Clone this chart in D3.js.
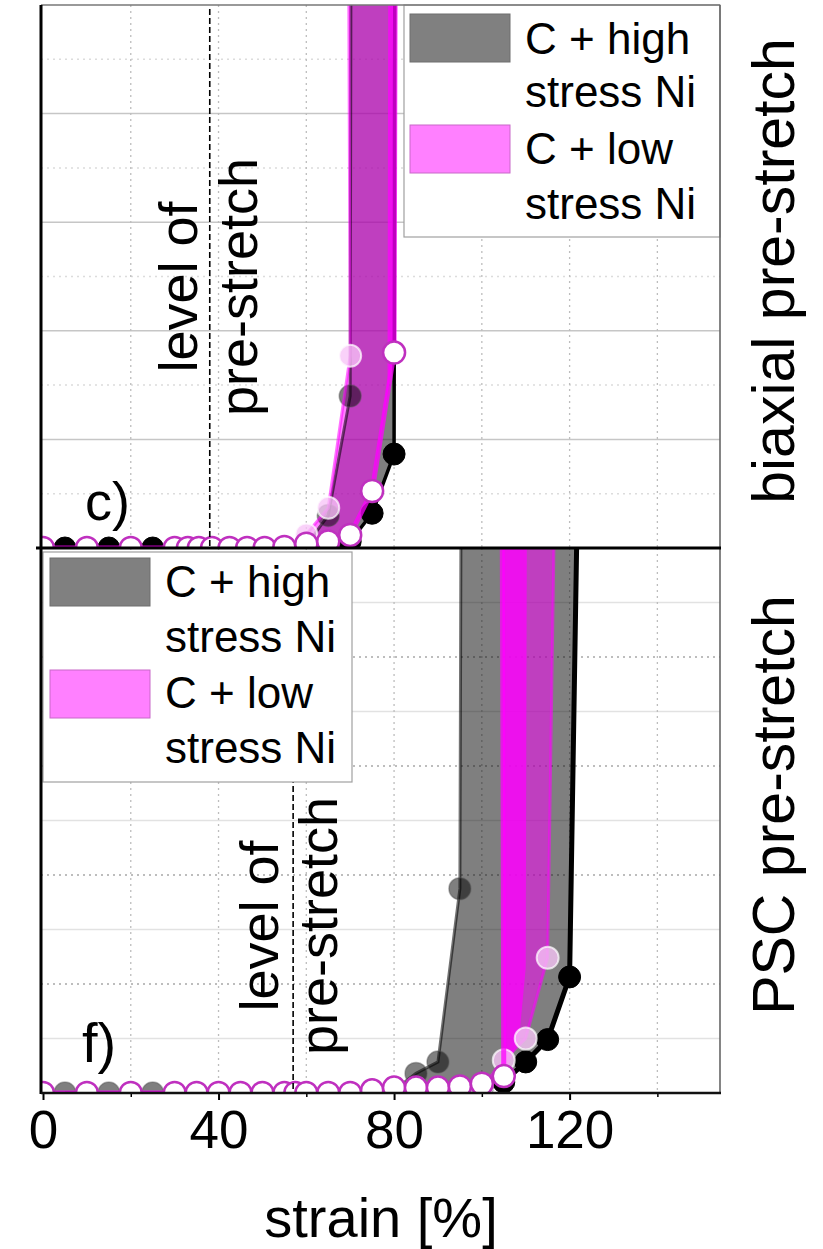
<!DOCTYPE html>
<html><head><meta charset="utf-8">
<script src="https://cdn.jsdelivr.net/npm/d3@7"></script>
<style>html,body{margin:0;padding:0;background:#fff}svg{display:block}text{font-family:"Liberation Sans",Arial,sans-serif;fill:#000}</style>
</head><body><svg id="chart" width="823" height="1249"></svg>
<script>
// ---------- data ----------
const strainDomain = [0, 154.5];
const yDomain = [0, 10];
const xMajorTicks = [0, 40, 80, 120];
const xMinorTicks = [20, 60, 100, 140];
const xGrid = [20, 40, 60, 80, 100, 120, 140];
const yGrid = [1, 2, 3, 4, 5, 6, 7, 8, 9];
const legendLabels = [["C + high", "stress Ni"], ["C + low", "stress Ni"]];
const panelLabels = ["c)", "f)"];
const sideLabels = ["biaxial pre-stretch", "PSC pre-stretch"];
const prestretchLevel = [38, 57];
const annot = ["level of", "pre-stretch"];
const axisTitle = "strain [%]";

// panel c (biaxial) : [strain, value]
const cHighA = [[55,0],[60,0.05],[65,0.6],[70,2.8],[70.2,12]];
const cHighB = [[5,0],[15,0],[25,0],[65,0.02],[70,0.12],[75,0.64],[80,1.73],[80.2,12]];
const cLowA  = [[0,0],[10,0],[20,0],[30,0],[33,0],[35.5,0],[38.5,0],[42.5,0],[46.5,0],[50.5,0],[55,0.02],[60,0.08],[65,0.12],[70,0.24],[75,1.05],[80,3.6],[80.3,12]];
const cLowB  = [[60,0.25],[65,0.74],[70,3.54],[69.6,12]];
const cLowC  = [[75,1.05],[78.5,3.0],[78.7,12]];

// panel f (PSC)
const fHighA = [[5,0],[15,0],[25,0],[80,0.05],[85,0.36],[90,0.57],[95,3.75],[95.3,12]];
const fHighB = [[100,0.05],[105,0.2],[110,0.57],[115,0.98],[120,2.13],[122,12]];
const fLowA  = [[0,0],[10,0],[20,0],[30,0],[35,0],[40,0],[45,0],[50,0],[55,0],[57.5,0],[60,0],[65,0],[70,0],[75,0.05],[80,0.1],[85,0.1],[90,0.1],[95,0.12],[100,0.17],[105,0.31],[104.6,12]];
const fLowB  = [[100,0.1],[105,0.6],[110,1.0],[115,2.48],[116.8,12]];
const fLowC  = [[105,0.31],[108.5,1.0],[110,2.3],[110.3,12]];

// ---------- drawing ----------
const svg = d3.select("#chart");
const x = d3.scaleLinear().domain(strainDomain).range([43, 721]);
const FR = 720, AX = 41, R = 11;

const panels = [
  {y0: 5, y1: 548, highA: cHighA, highB: cHighB, lowA: cLowA, lowB: cLowB, lowC: cLowC,
   greyFrom: 55, magFrom: 60, midFrom: 75, midLeftIsC: true, gridSolidEven: true,
   label: panelLabels[0], labelPos: [85, 520], labelSize: 54,
   pre: prestretchLevel[0], annotX: [197, 257], annotY: 287,
   side: sideLabels[0], sideY: 271, blackW: 3.5,
   legend: {x: 404, y: 5, w: 316, h: 232, sx: 410, sy: [14, 125], tx: 525, ty: [54, 107, 164, 219]}},
  {y0: 548, y1: 1093, highA: fHighA, highB: fHighB, lowA: fLowA, lowB: fLowB, lowC: fLowC,
   greyFrom: 80, magFrom: 100, midFrom: 104, midLeftIsC: false, gridSolidEven: false,
   label: panelLabels[1], labelPos: [82, 1062], labelSize: 56,
   pre: prestretchLevel[1], annotX: [278, 337], annotY: 926,
   side: sideLabels[1], sideY: 805, blackW: 5,
   legend: {x: 43, y: 552, w: 309, h: 230, sx: 50, sy: [558, 670], tx: 165, ty: [597, 652, 708, 763]}}
];

const defs = svg.append("defs");

function band(left, right, fromX) {
  const l = left.filter(d => d[0] >= fromX);
  const r = right.filter(d => d[0] >= fromX).slice().reverse();
  return l.concat(r);
}

panels.forEach((p, i) => {
  const y = d3.scaleLinear().domain(yDomain).range([p.y1, p.y0]);
  const clipId = "clip" + i;
  defs.append("clipPath").attr("id", clipId).append("rect")
    .attr("x", AX + 1).attr("y", p.y0).attr("width", FR - AX - 1).attr("height", p.y1 - p.y0);
  const g = svg.append("g").attr("clip-path", `url(#${clipId})`);

  // grid
  g.selectAll(".hg").data(yGrid).join("line")
    .attr("x1", AX).attr("x2", FR).attr("y1", d => y(d)).attr("y2", d => y(d))
    .attr("stroke", d => {
      const solid = (d % 2 === 0) === p.gridSolidEven;
      return solid ? (p.gridSolidEven ? "#c6c6c6" : "#e2e2e2") : (p.gridSolidEven ? "#dcdcdc" : "#a8a8a8");
    })
    .attr("stroke-width", 1.5)
    .attr("stroke-dasharray", d => ((d % 2 === 0) === p.gridSolidEven) ? null : "2,4");
  g.selectAll(".vg").data(xGrid).join("line")
    .attr("x1", d => x(d)).attr("x2", d => x(d)).attr("y1", p.y0).attr("y2", p.y1)
    .attr("stroke", "#bdbdbd").attr("stroke-width", 1.3).attr("stroke-dasharray", "2,4");

  const line = d3.line().x(d => x(d[0])).y(d => y(d[1]));

  // bands
  g.append("path").attr("d", line(band(p.highA, p.highB, p.greyFrom)) + "Z")
    .attr("fill", "#000").attr("fill-opacity", 0.5);
  g.append("path").attr("d", line(band(p.lowA, p.lowB, p.magFrom)) + "Z")
    .attr("fill", "#ff00ff").attr("fill-opacity", 0.5);
  const mid = p.midLeftIsC ? band(p.lowC, p.lowA, p.midFrom) : band(p.lowA, p.lowC, p.midFrom);
  g.append("path").attr("d", line(mid) + "Z")
    .attr("fill", "#ff00ff").attr("fill-opacity", 0.72);

  // high stress: translucent grey
  g.append("path").attr("d", line(p.highA)).attr("fill", "none")
    .attr("stroke", "#000").attr("stroke-opacity", 0.55).attr("stroke-width", 3);
  g.selectAll(".ha").data(p.highA).join("circle")
    .attr("cx", d => x(d[0])).attr("cy", d => y(d[1])).attr("r", R)
    .attr("fill", "#000").attr("fill-opacity", 0.5)
    .attr("stroke", "#555").attr("stroke-opacity", 0.4).attr("stroke-width", 1.5);
  // high stress: black
  g.append("path").attr("d", line(p.highB)).attr("fill", "none")
    .attr("stroke", "#000").attr("stroke-width", p.blackW);
  g.selectAll(".hb").data(p.highB).join("circle")
    .attr("cx", d => x(d[0])).attr("cy", d => y(d[1])).attr("r", R)
    .attr("fill", "#000").attr("stroke", "#000").attr("stroke-width", 1);
  // low stress: pink translucent
  g.append("path").attr("d", line(p.lowB)).attr("fill", "none")
    .attr("stroke", "#ff00ff").attr("stroke-opacity", 0.55).attr("stroke-width", 3);
  g.selectAll(".lb").data(p.lowB).join("circle")
    .attr("cx", d => x(d[0])).attr("cy", d => y(d[1])).attr("r", R)
    .attr("fill", "#f7c4f7").attr("fill-opacity", 0.78)
    .attr("stroke", "#fff").attr("stroke-opacity", 0.7).attr("stroke-width", 2);
  // low stress: white with magenta edge
  g.append("path").attr("d", line(p.lowA)).attr("fill", "none")
    .attr("stroke", "#ff00ff").attr("stroke-opacity", 0.75).attr("stroke-width", 5);
  g.selectAll(".la").data(p.lowA).join("circle")
    .attr("cx", d => x(d[0])).attr("cy", d => y(d[1])).attr("r", R)
    .attr("fill", "#fff").attr("stroke", "#bf30bf").attr("stroke-width", 2.5);

  // pre-stretch dashed line
  svg.append("line")
    .attr("x1", x(p.pre)).attr("x2", x(p.pre)).attr("y1", p.y0 + 4).attr("y2", p.y1)
    .attr("stroke", "#000").attr("stroke-width", 1.6).attr("stroke-dasharray", "6,3");

  // annotation texts
  annot.forEach((t, k) => {
    svg.append("text").attr("transform", `translate(${p.annotX[k]},${p.annotY}) rotate(-90)`)
      .attr("text-anchor", "middle").attr("font-size", 54).text(t);
  });

  // panel label
  svg.append("text").attr("x", p.labelPos[0]).attr("y", p.labelPos[1])
    .attr("font-size", p.labelSize).text(p.label);

  // side label
  svg.append("text").attr("transform", `translate(794,${p.sideY}) rotate(-90)`)
    .attr("text-anchor", "middle").attr("font-size", 59).text(p.side);

  // legend
  const L = p.legend;
  svg.append("rect").attr("x", L.x).attr("y", L.y).attr("width", L.w).attr("height", L.h)
    .attr("fill", "#fff").attr("stroke", "#a0a0a0").attr("stroke-width", 1.2);
  svg.append("rect").attr("x", L.sx).attr("y", L.sy[0]).attr("width", 100).attr("height", 48)
    .attr("fill", "#808080").attr("stroke", "#6e6e6e").attr("stroke-width", 1);
  svg.append("rect").attr("x", L.sx).attr("y", L.sy[1]).attr("width", 100).attr("height", 48)
    .attr("fill", "#ff80ff").attr("stroke", "#c868c8").attr("stroke-width", 1);
  const lines = legendLabels.flat();
  lines.forEach((t, k) => {
    svg.append("text").attr("x", L.tx).attr("y", L.ty[k]).attr("font-size", 44).text(t);
  });
});

// frame
svg.append("line").attr("x1", AX).attr("x2", FR).attr("y1", 5).attr("y2", 5)
  .attr("stroke", "#777").attr("stroke-width", 1.5);
svg.append("line").attr("x1", FR).attr("x2", FR).attr("y1", 5).attr("y2", 1093)
  .attr("stroke", "#666").attr("stroke-width", 1.6);
svg.append("line").attr("x1", AX).attr("x2", AX).attr("y1", 5).attr("y2", 1094)
  .attr("stroke", "#000").attr("stroke-width", 3);
svg.append("line").attr("x1", 36).attr("x2", FR + 1).attr("y1", 548).attr("y2", 548)
  .attr("stroke", "#000").attr("stroke-width", 3);

// x axis
const axG = svg.append("g").attr("transform", "translate(0,1093)");
axG.call(d3.axisBottom(x).tickValues(xMajorTicks).tickSize(7).tickPadding(10).tickFormat(d3.format("d")));
axG.select(".domain").remove();
axG.selectAll(".tick line").attr("stroke", "#000").attr("stroke-width", 2);
axG.selectAll(".tick text").attr("font-size", 53).attr("font-family", '"Liberation Sans",Arial,sans-serif').attr("fill", "#000").attr("dy", "0.71em");
const minorG = svg.append("g").attr("transform", "translate(0,1093)");
minorG.call(d3.axisBottom(x).tickValues(xMinorTicks).tickSize(4).tickFormat(""));
minorG.select(".domain").remove();
minorG.selectAll(".tick line").attr("stroke", "#000").attr("stroke-width", 1.5);
svg.append("line").attr("x1", AX).attr("x2", FR + 1).attr("y1", 1093).attr("y2", 1093)
  .attr("stroke", "#111").attr("stroke-width", 2.5);

svg.append("text").attr("x", 381).attr("y", 1237).attr("text-anchor", "middle")
  .attr("font-size", 56).text(axisTitle);
</script></body></html>
